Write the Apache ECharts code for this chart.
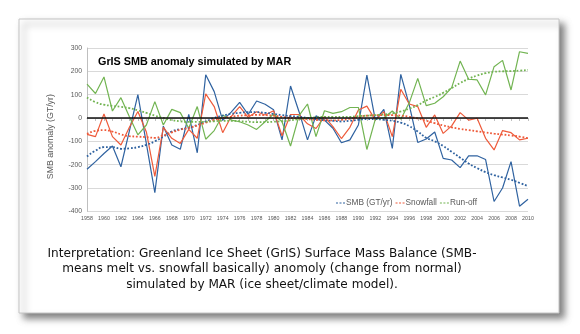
<!DOCTYPE html>
<html>
<head>
<meta charset="utf-8">
<script src="https://cdn.jsdelivr.net/npm/echarts@6/dist/echarts.min.js"></script>
<style>
html,body{margin:0;padding:0;background:#fff;}
#c{width:580px;height:334px;}
</style>
</head>
<body>
<div id="c"></div>
<script>
const years = [];
for (let y = 1958; y <= 2010; y++) years.push(String(y));

const yTicks = { min: -400, max: 300, step: 100 };

const smb = [-220,-187,-152,-120,-209,-55,100,-110,-320,-35,
  -116,-134,15,-149,185,113,-10,25,67,15,
  73,59,35,-94,137,27,-94,9,-9,-44,
  -106,-94,-30,184,-9,37,-130,187,55,-105,
  -90,-60,-173,-180,-213,-162,-162,-178,-358,-300,
  -187,-378,-348];

const snowfall = [-70,-80,17,-80,-116,-40,28,-60,-250,-40,
  -87,-109,-49,-87,103,49,-63,6,49,3,
  27,13,31,-76,15,15,-25,-45,6,-37,
  -88,-40,34,51,-9,27,-80,123,60,49,
  -40,13,-66,-34,23,-9,-1,-87,-137,-54,
  -63,-94,-87];

const runoff = [145,105,176,30,87,5,-72,-30,70,-30,
  37,23,-44,49,-91,-54,13,-9,-16,-30,
  -49,-16,17,-16,-120,10,60,-80,31,20,
  27,45,45,-135,-5,0,30,-5,65,170,
  53,63,91,130,244,166,163,99,220,247,
  120,284,277];

const smbTrend = [-165,-140,-125,-125,-132,-130,-125,-115,-100,-80,
  -58,-48,-42,-30,-15,0,10,18,22,25,
  25,22,18,12,8,5,0,-5,-10,-12,
  -15,-12,-8,-5,-5,-8,-12,-20,-35,-58,
  -85,-100,-120,-145,-170,-195,-215,-232,-245,-255,
  -265,-278,-292];

const snowfallTrend = [-68,-55,-52,-58,-70,-78,-80,-82,-85,-75,
  -62,-50,-42,-32,-20,-8,0,5,10,12,
  13,12,10,5,0,-2,-5,-8,-10,-10,
  -8,-3,5,10,12,12,12,10,5,-2,
  -12,-22,-32,-40,-47,-52,-57,-62,-67,-71,
  -75,-80,-87];

const runoffTrend = [88,68,57,52,48,42,33,22,10,0,
  -9,-14,-17,-17,-16,-14,-12,-12,-14,-16,
  -18,-18,-16,-14,-10,-5,0,3,5,5,
  5,5,8,10,12,15,20,28,40,55,
  75,90,108,128,150,168,182,192,198,200,
  201,203,206];

const seriesNames = ['SMB (GT/yr)', 'Snowfall', 'Run-off'];
const colors = ['#2f62a0', '#ee5a3a', '#72b452'];

const titleText = 'GrIS SMB anomaly simulated by MAR';
const yName = 'SMB anomaly (GT/yr)';
const caption = 'Interpretation: Greenland Ice Sheet (GrIS) Surface Mass Balance (SMB-\nmeans melt vs. snowfall basically) anomoly (change from normal)\nsimulated by MAR (ice sheet/climate model).';

const solidData = [smb, snowfall, runoff];
const trendData = [smbTrend, snowfallTrend, runoffTrend];

const dashIcon = 'path://M0,0h2v1h-2zM3.5,0h2v1h-2zM7,0h2v1h-2z';

const series = [];
solidData.forEach((d, i) => {
  series.push({
    name: seriesNames[i] + ' annual',
    type: 'line', data: d, symbol: 'none', smooth: false,
    lineStyle: { color: colors[i], width: 1.2 },
    itemStyle: { color: colors[i] },
    z: 3
  });
});
trendData.forEach((d, i) => {
  series.push({
    name: seriesNames[i],
    type: 'line', data: d, symbol: 'none', smooth: true,
    lineStyle: { color: colors[i], width: 1.8, type: 'dotted' },
    itemStyle: { color: colors[i] },
    z: 4
  });
});
series[series.length - 1].markLine = {
  silent: true, symbol: 'none', label: { show: false },
  lineStyle: { color: '#111', width: 1.6, type: 'solid' },
  data: [{ yAxis: 0 }], z: 6
};

const chart = echarts.init(document.getElementById('c'));
chart.setOption({
  animation: false,
  backgroundColor: '#fff',
  graphic: [
    { type: 'rect', z: -10, shape: { x: 19, y: 19, width: 540, height: 294 },
      style: { fill: '#fff', stroke: '#c4c4c4', lineWidth: 1,
        shadowBlur: 7, shadowOffsetX: 5, shadowOffsetY: 5, shadowColor: 'rgba(0,0,0,0.5)' } },
    { type: 'text', z: 10, x: 262, y: 246,
      style: { text: caption, fill: '#111', textAlign: 'center', textVerticalAlign: 'top',
        font: '12.1px "DejaVu Sans", sans-serif', lineHeight: 15.5 } }
  ],
  title: {
    text: titleText, left: 93, top: 52,
    textStyle: { fontSize: 10.8, fontWeight: 'bold', color: '#000', fontFamily: '"Liberation Sans", Arial, sans-serif' }
  },
  legend: {
    data: seriesNames.map((n) => ({ name: n, icon: dashIcon })),
    left: 331, top: 194, itemWidth: 9, itemHeight: 1.5, itemGap: 3,
    textStyle: { fontSize: 8.3, color: '#595959', fontFamily: '"Liberation Sans", Arial, sans-serif', padding: [0, 0, 0, -4] }
  },
  grid: { left: 87, right: 52, top: 48, bottom: 122.7, containLabel: false },
  xAxis: {
    type: 'category', data: years, boundaryGap: false,
    axisLine: { lineStyle: { color: '#bfbfbf' } },
    axisTick: { show: true, interval: 0, length: 3, lineStyle: { color: '#bfbfbf' } },
    axisLabel: { interval: 1, fontSize: 5.3, color: '#555', margin: 5, fontFamily: '"Liberation Sans", Arial, sans-serif' },
    splitLine: { show: false }
  },
  yAxis: {
    type: 'value', min: yTicks.min, max: yTicks.max, interval: yTicks.step,
    name: yName, nameLocation: 'middle', nameGap: 32, nameRotate: 90,
    nameTextStyle: { fontSize: 8.8, color: '#595959', fontFamily: '"Liberation Sans", Arial, sans-serif', padding: [0, 14, 0, 0] },
    axisLine: { show: true, lineStyle: { color: '#bfbfbf' } },
    axisTick: { show: false },
    axisLabel: { fontSize: 6.8, color: '#595959', margin: 5, fontFamily: '"Liberation Sans", Arial, sans-serif' },
    splitLine: { lineStyle: { color: '#d9d9d9', width: 1 } }
  },
  series: series
});
</script>
</body>
</html>
